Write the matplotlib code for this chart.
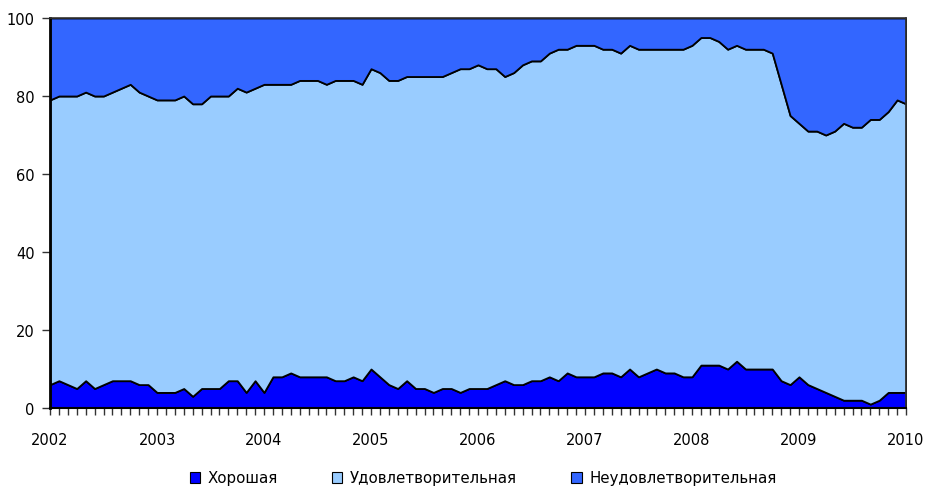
import matplotlib
matplotlib.use("Agg")
import matplotlib.pyplot as plt
import numpy as np
from matplotlib.ticker import MultipleLocator

# Monthly data, Jan 2002 .. Jan 2010
years = [2002, 2003, 2004, 2005, 2006, 2007, 2008, 2009, 2010]
good = [6, 7, 6, 5, 7, 5, 6, 7, 7, 7, 6, 6,
        4, 4, 4, 5, 3, 5, 5, 5, 7, 7, 4, 7,
        4, 8, 8, 9, 8, 8, 8, 8, 7, 7, 8, 7,
        10, 8, 6, 5, 7, 5, 5, 4, 5, 5, 4, 5,
        5, 5, 6, 7, 6, 6, 7, 7, 8, 7, 9, 8,
        8, 8, 9, 9, 8, 10, 8, 9, 10, 9, 9, 8,
        8, 11, 11, 11, 10, 12, 10, 10, 10, 10, 7, 6,
        8, 6, 5, 4, 3, 2, 2, 2, 1, 2, 4, 4,
        4]
satisfactory = [73, 73, 74, 75, 74, 75, 74, 74, 75, 76, 75, 74,
                75, 75, 75, 75, 75, 73, 75, 75, 73, 75, 77, 75,
                79, 75, 75, 74, 76, 76, 76, 75, 77, 77, 76, 76,
                77, 78, 78, 79, 78, 80, 80, 81, 80, 81, 83, 82,
                83, 82, 81, 78, 80, 82, 82, 82, 83, 85, 83, 85,
                85, 85, 83, 83, 83, 83, 84, 83, 82, 83, 83, 84,
                85, 84, 84, 83, 82, 81, 82, 82, 82, 81, 76, 69,
                65, 65, 66, 66, 68, 71, 70, 70, 73, 72, 72, 75,
                74]
unsatisfactory = [21, 20, 20, 20, 19, 20, 20, 19, 18, 17, 19, 20,
                  21, 21, 21, 20, 22, 22, 20, 20, 20, 18, 19, 18,
                  17, 17, 17, 17, 16, 16, 16, 17, 16, 16, 16, 17,
                  13, 14, 16, 16, 15, 15, 15, 15, 15, 14, 13, 13,
                  12, 13, 13, 15, 14, 12, 11, 11, 9, 8, 8, 7,
                  7, 7, 8, 8, 9, 7, 8, 8, 8, 8, 8, 8,
                  7, 5, 5, 6, 8, 7, 8, 8, 8, 9, 17, 25,
                  27, 29, 29, 30, 29, 27, 28, 28, 26, 26, 24, 21,
                  22]
labels = ["Хорошая", "Удовлетворительная", "Неудовлетворительная"]
colors = ["#0000FF", "#99CCFF", "#3366FF"]

x = years[0] + np.arange(len(good)) / 12.0

fig = plt.figure(figsize=(9.25, 4.89), dpi=100)
ax = fig.add_axes([50/925, 1-409/489, (906-50)/925, (409-19)/489])

polys = ax.stackplot(x, good, satisfactory, unsatisfactory, colors=colors,
                     labels=labels, edgecolor="black", linewidth=1.3)

ax.set_xlim(years[0], years[-1])
ax.set_ylim(0, 100)
ax.set_xticks(years)
ax.set_xticklabels([str(y) for y in years])
ax.xaxis.set_minor_locator(MultipleLocator(1/12))
ax.set_yticks(range(0, 101, 20))

ax.tick_params(axis="x", which="both", direction="out", length=5, width=1,
               color="#333333", labelsize=10.5, pad=12)
ax.tick_params(axis="y", which="major", direction="out", length=6, width=1,
               color="#333333", labelsize=10.5, pad=5)

ax.spines["left"].set_linewidth(2)
ax.spines["bottom"].set_linewidth(1.5)
for s in ["top", "right"]:
    ax.spines[s].set_linewidth(1.2)
    ax.spines[s].set_color("#333333")

leg = fig.legend(handles=polys, labels=labels, loc="center",
                 bbox_to_anchor=(483/925, 1-479/489), ncol=3, frameon=False,
                 fontsize=10.8, handlelength=0.7, handleheight=0.7,
                 handletextpad=0.5, columnspacing=3.6)
for h in leg.legend_handles:
    h.set_linewidth(0.8)

fig.savefig("out.png", dpi=100)
